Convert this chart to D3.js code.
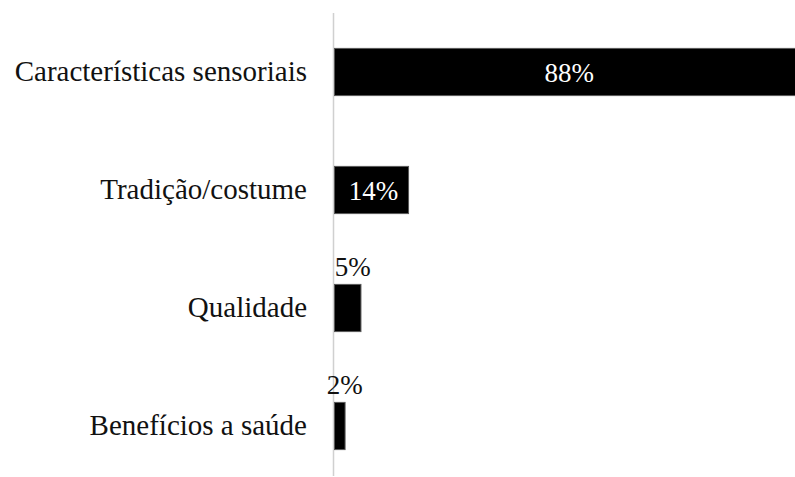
<!DOCTYPE html>
<html>
<head>
<meta charset="utf-8">
<script src="https://cdn.jsdelivr.net/npm/d3@7"></script>
<style>
  html, body { margin: 0; padding: 0; background: #fff; }
  svg { display: block; }
  text { font-family: "Liberation Serif", "Times New Roman", serif; }
</style>
</head>
<body>
<svg id="chart" width="795" height="477"></svg>
<script>
// Motivos de consumo (% de respostas)
const categories = ["Características sensoriais", "Tradição/costume", "Qualidade", "Benefícios a saúde"];
const values = [88, 14, 5, 2];
const valueLabels = ["88%", "14%", "5%", "2%"];

const svg = d3.select("#chart");
const W = 795, H = 477;

const x = d3.scaleLinear().domain([0, 88]).range([334.5, 800]);
const y = d3.scaleBand().domain(categories).range([13, 485]).paddingInner(0.6).paddingOuter(0.3);

// vertical category axis line
svg.append("line")
  .attr("x1", 333.5).attr("x2", 333.5)
  .attr("y1", 13).attr("y2", 476)
  .attr("stroke", "#d0d0d0")
  .attr("stroke-width", 1.5);

const data = categories.map((c, i) => ({ c, v: values[i], label: valueLabels[i] }));

// bars
svg.selectAll("rect.bar").data(data).join("rect")
  .attr("class", "bar")
  .attr("x", x(0))
  .attr("y", d => y(d.c))
  .attr("width", d => x(d.v) - x(0))
  .attr("height", y.bandwidth())
  .attr("fill", "#000")
  .attr("stroke", "#595959")
  .attr("stroke-width", 1);

// category labels
svg.selectAll("text.cat").data(data).join("text")
  .attr("class", "cat")
  .attr("x", 307)
  .attr("y", d => y(d.c) + y.bandwidth() / 2 + 9)
  .attr("text-anchor", "end")
  .attr("font-size", 29)
  .attr("fill", "#111")
  .text(d => d.c);

// value labels: inside the wide bars, above the narrow ones
svg.selectAll("text.val").data(data).join("text")
  .attr("class", "val")
  .attr("text-anchor", "middle")
  .attr("font-size", 27)
  .each(function(d) {
    const t = d3.select(this);
    const inside = x(d.v) - x(0) > 60;
    if (inside) {
      t.attr("x", (x(0) + x(d.v)) / 2 + 2)
       .attr("y", y(d.c) + y.bandwidth() / 2 + 10)
       .attr("fill", "#fff");
    } else {
      t.attr("x", (x(0) + x(d.v)) / 2 + 5)
       .attr("y", y(d.c) - 8.5)
       .attr("fill", "#111");
    }
  })
  .text(d => d.label);
</script>
</body>
</html>
